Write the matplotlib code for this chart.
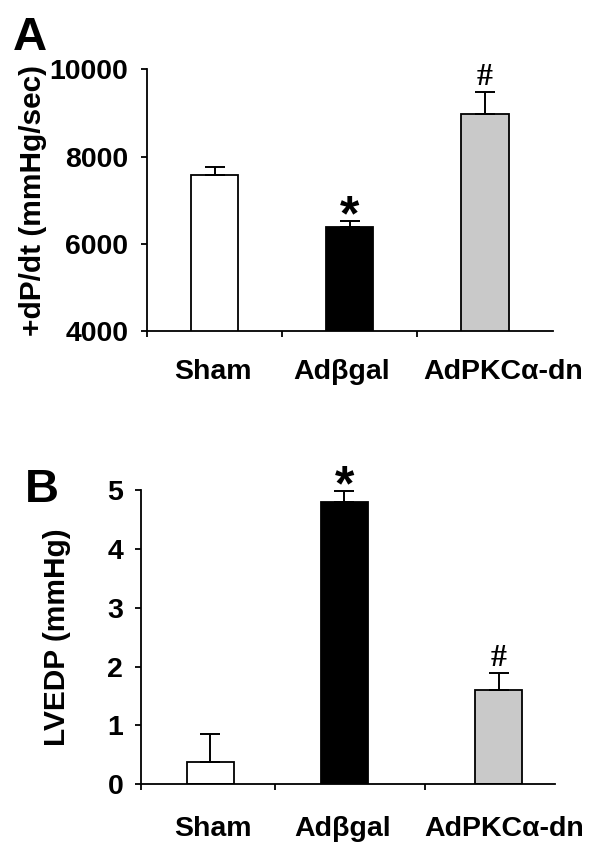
import matplotlib
matplotlib.use("Agg")
import matplotlib.pyplot as plt

plt.rcParams['font.family'] = ['Liberation Sans', 'DejaVu Sans']
plt.rcParams['font.weight'] = 'bold'

# ---- data ----
categories = ["Sham", "Ad\u03b2gal", "AdPKC\u03b1-dn"]
dpdt_mean = [7580, 6380, 8980]
dpdt_err = [175, 150, 510]
lvedp_mean = [0.38, 4.79, 1.61]
lvedp_err = [0.47, 0.20, 0.28]
a_marks = ["", "*", "#"]
b_marks = ["", "*", "#"]
a_ticks = [4000, 6000, 8000, 10000]
b_ticks = [0, 1, 2, 3, 4, 5]

# ---- layout ----
colors = ["white", "black", "#c9c9c9"]
bar_w = 0.35
FS = 20.5
fig = plt.figure(figsize=(6.0, 8.47), dpi=100)

def panel(rect, xpos, vals, errs, marks, xlim, ylim, yticks, xticks, labpos,
          ylabel, ylab_x, tickpad, labpad):
    ax = fig.add_axes(rect)
    ax.bar(xpos, vals, width=bar_w, color=colors, edgecolor="black",
           linewidth=1.3, zorder=2)
    ax.errorbar(xpos, vals, yerr=[[0] * len(vals), errs], fmt="none",
                ecolor="black", elinewidth=1.4, capsize=7, capthick=1.4, zorder=3)
    for x, v, e, m in zip(xpos, vals, errs, marks):
        if m == "*":
            ax.annotate(m, (x, v + e), xytext=(0, -7), textcoords="offset points",
                        ha="center", va="baseline", fontsize=36, fontweight="bold")
        elif m == "#":
            ax.annotate(m, (x, v + e), xytext=(0, 5), textcoords="offset points",
                        ha="center", va="baseline", fontsize=23, fontweight="bold",
                        family="Liberation Serif")
    ax.set_xlim(*xlim)
    ax.set_ylim(*ylim)
    ax.set_yticks(yticks)
    ax.set_xticks(xticks)
    ax.set_xticklabels([])
    ax.set_xticks(labpos, minor=True)
    ax.set_xticklabels(categories, minor=True, fontsize=FS, fontweight="bold")
    ax.tick_params(axis="x", which="minor", length=0, pad=labpad)
    ax.tick_params(axis="x", which="major", direction="out", length=4.5, width=1.3)
    ax.tick_params(axis="y", direction="out", length=4.5, width=1.3, pad=tickpad,
                   labelsize=FS)
    for lab in ax.get_yticklabels():
        lab.set_fontweight("bold")
    for s in ["top", "right"]:
        ax.spines[s].set_visible(False)
    for s in ["left", "bottom"]:
        ax.spines[s].set_linewidth(1.3)
    ax.set_ylabel(ylabel, fontsize=21.5, fontweight="bold")
    ax.yaxis.set_label_coords(ylab_x, 0.5)
    ax.yaxis.label.set_va("center")
    return ax

axA = panel([0.245, 0.6092, 0.676, 0.309], [0, 1, 2], dpdt_mean, dpdt_err, a_marks,
            (-0.5, 2.5), (4000, 10000), a_ticks, [-0.5, 0.5, 1.5],
            [-0.01, 0.943, 2.138], "+dP/dt (mmHg/sec)", -0.281, 9, 20)
axB = panel([0.2342, 0.0740, 0.6908, 0.3475], [0, 1, 2.15], lvedp_mean, lvedp_err, b_marks,
            (-0.52, 2.57), (0, 5), b_ticks, [-0.52, 0.48, 1.6],
            [0.021, 0.99, 2.19], "LVEDP (mmHg)", -0.2014, 8, 23)

fig.text(13 / 600, 1 - 50 / 847, "A", fontsize=34, fontweight="bold", ha="left", va="baseline")
fig.text(25 / 600, 1 - 502 / 847, "B", fontsize=34, fontweight="bold", ha="left", va="baseline")

fig.savefig("out.png", dpi=100)
